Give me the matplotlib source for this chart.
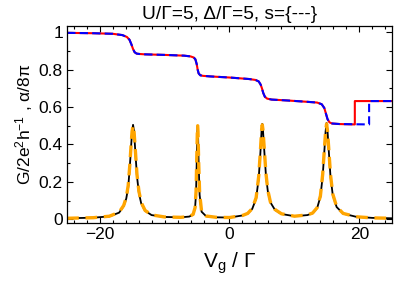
import matplotlib
matplotlib.use('Agg')
import matplotlib.pyplot as plt

plt.rcParams['font.family'] = ['Liberation Sans', 'DejaVu Sans']
plt.rcParams['mathtext.fontset'] = 'custom'
plt.rcParams['mathtext.rm'] = 'Liberation Sans'
plt.rcParams['mathtext.it'] = 'Liberation Sans:italic'

# conductance G (black) and its dashed partner (orange)
vg_g = [-25.0, -21.0, -18.5, -17.0, -16.3, -15.9, -15.6, -15.35, -15.15, -15.0,
        -14.85, -14.7, -14.5, -14.25, -13.95, -13.6, -13.0, -12.0, -10.0, -7.5,
        -6.2, -5.6, -5.3, -5.15, -5.05, -4.95, -4.9, -4.85, -4.75, -4.6,
        -4.3, -3.6, -2.0, 0.0, 2.0, 2.8, 3.5, 4.1, 4.5, 4.75,
        4.95, 5.05, 5.15, 5.35, 5.6, 5.9, 6.3, 7.0, 8.0, 10.0,
        12.0, 12.8, 13.5, 14.0, 14.35, 14.6, 14.8, 14.95, 15.1, 15.3,
        15.55, 15.9, 16.5, 17.5, 19.5, 22.0, 25.0]
g_black = [0.005, 0.008, 0.015, 0.035, 0.07, 0.11, 0.17, 0.28, 0.39, 0.47,
           0.505, 0.47, 0.36, 0.23, 0.14, 0.085, 0.045, 0.022, 0.012, 0.010,
           0.014, 0.025, 0.06, 0.14, 0.30, 0.47, 0.50, 0.47, 0.30, 0.13,
           0.04, 0.016, 0.010, 0.009, 0.020, 0.030, 0.055, 0.11, 0.22, 0.35,
           0.48, 0.51, 0.48, 0.37, 0.24, 0.15, 0.09, 0.05, 0.028, 0.016,
           0.022, 0.032, 0.06, 0.12, 0.23, 0.36, 0.47, 0.515, 0.47, 0.36,
           0.23, 0.13, 0.065, 0.03, 0.013, 0.007, 0.005]
g_orange = [0.005, 0.008, 0.016, 0.037, 0.073, 0.115, 0.18, 0.29, 0.40, 0.47,
            0.50, 0.47, 0.37, 0.24, 0.15, 0.09, 0.047, 0.023, 0.012, 0.010,
            0.014, 0.026, 0.062, 0.15, 0.31, 0.47, 0.50, 0.47, 0.31, 0.14,
            0.042, 0.017, 0.010, 0.009, 0.020, 0.031, 0.057, 0.115, 0.23, 0.36,
            0.48, 0.505, 0.48, 0.38, 0.25, 0.155, 0.092, 0.052, 0.029, 0.016,
            0.023, 0.033, 0.062, 0.125, 0.24, 0.37, 0.47, 0.51, 0.47, 0.37,
            0.24, 0.135, 0.067, 0.031, 0.013, 0.007, 0.005]

# alpha/8pi staircase (red solid, blue dashed), shared part
vg_a = [-25.0, -21.0, -18.0, -16.5, -15.8, -15.4, -15.1, -14.85, -14.6, -14.3,
        -13.9, -13.0, -10.0, -7.0, -6.0, -5.5, -5.25, -5.05, -4.9, -4.75,
        -4.5, -4.1, -3.0, 0.0, 3.0, 4.0, 4.5, 4.8, 5.0, 5.2,
        5.45, 5.8, 6.5, 9.0, 12.0, 13.5, 14.2, 14.6, 14.85, 15.1,
        15.4, 15.8, 17.0]
alpha = [0.997, 0.995, 0.992, 0.985, 0.975, 0.96, 0.935, 0.91, 0.893, 0.886,
         0.884, 0.882, 0.879, 0.875, 0.871, 0.865, 0.855, 0.83, 0.80, 0.78,
         0.77, 0.767, 0.764, 0.758, 0.75, 0.745, 0.737, 0.72, 0.70, 0.675,
         0.655, 0.645, 0.64, 0.635, 0.628, 0.624, 0.615, 0.595, 0.565, 0.535,
         0.518, 0.512, 0.509]
red_tail_vg = [19.3, 19.3, 25.0]
blue_tail_vg = [21.5, 21.5, 25.0]
tail_alpha = [0.507, 0.632, 0.632]

fig = plt.figure(figsize=(3.95, 2.84), dpi=100)
ax = fig.add_axes([0.170, 0.215, 0.822, 0.695])

ax.plot(vg_a + red_tail_vg, alpha + tail_alpha, color='red', lw=1.5)
ax.plot(vg_a + blue_tail_vg, alpha + tail_alpha, color='blue', lw=1.5,
        dashes=(4, 2))
ax.plot(vg_g, g_black, color='black', lw=1.3)
ax.plot(vg_g, g_orange, color='orange', lw=2.4, dashes=(3.5, 2))

ax.set_xlim(-25, 25)
ax.set_ylim(-0.02, 1.036)
ax.set_xticks([-20, 0, 20])
ax.set_xticks(range(-24, 25, 2), minor=True)
ax.set_yticks([0, 0.2, 0.4, 0.6, 0.8, 1.0])
ax.set_yticklabels(['0', '0.2', '0.4', '0.6', '0.8', '1'])
ax.set_yticks([0.1 * i for i in range(11)], minor=True)
ax.tick_params(which='both', direction='in', top=True, right=True,
               labelsize=12.5, width=0.8)
ax.tick_params(which='major', length=4.5, pad=3)
ax.tick_params(which='minor', length=2.5)
for sp in ax.spines.values():
    sp.set_linewidth(0.9)

ax.set_title('U/Γ=5, Δ/Γ=5, s={---}', fontsize=13.8, pad=5)
ax.set_xlabel(r'V$_\mathregular{g}$ / Γ', fontsize=15, labelpad=6)
ax.set_ylabel(r'G/2e$^\mathregular{2}$h$^\mathregular{-1}$ , α/8π',
              fontsize=12.5, labelpad=3)

fig.savefig('out.png', dpi=100)
